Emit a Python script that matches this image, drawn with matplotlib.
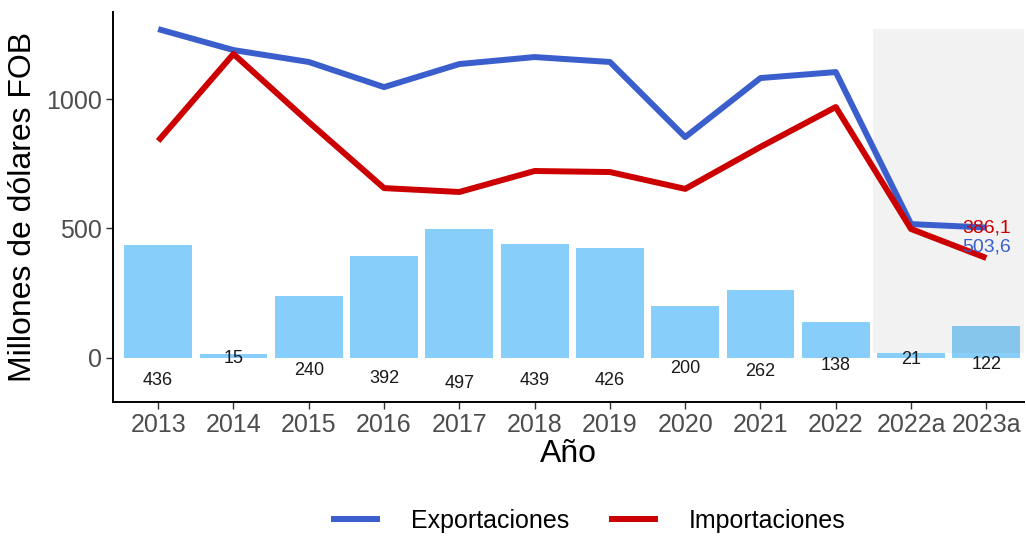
import matplotlib
matplotlib.use("Agg")
import matplotlib.pyplot as plt
from matplotlib.lines import Line2D
from matplotlib.patches import Rectangle

# datos
anios = ['2013', '2014', '2015', '2016', '2017', '2018', '2019', '2020',
         '2021', '2022', '2022a', '2023a']
exportaciones = [1270, 1189, 1143, 1046, 1135, 1162, 1143, 853, 1081, 1104, 517, 503.6]
importaciones = [838, 1174, 911, 656, 641, 722, 718, 653, 815, 969, 498, 386.1]
saldo = [436, 15, 240, 392, 497, 439, 426, 200, 262, 138, 21, 122]

AZUL = '#3A5FCD'
ROJO = '#CC0000'
BARRA = '#87CEFA'

plt.rcParams['font.family'] = ['Liberation Sans', 'DejaVu Sans']

fig = plt.figure(figsize=(10.26, 5.36), dpi=100)
ax = fig.add_axes([113 / 1026, 1 - 402 / 536, (1024 - 113) / 1026, (402 - 12) / 536])

x = list(range(len(anios)))

ax.bar(x, saldo, width=0.9, color=BARRA, zorder=1)
for xi, v in zip(x, saldo):
    ax.text(xi, -0.2 * v, f'{v}', ha='center', va='center', fontsize=13,
            color='#1a1a1a', zorder=4)

# zona sombreada (datos acumulados)
ax.add_patch(Rectangle((9.5, 20), 2.0, max(exportaciones) - 20,
                       facecolor='#808080', alpha=0.1, edgecolor='none', zorder=2))

ax.plot(x, exportaciones, color=AZUL, lw=4.3, zorder=3, solid_capstyle='butt')
ax.plot(x, importaciones, color=ROJO, lw=4.3, zorder=3, solid_capstyle='butt')

ax.text(x[-1], exportaciones[-1], f'{importaciones[-1]:.1f}'.replace('.', ','),
        color=ROJO, ha='center', va='center', fontsize=14, zorder=5)
ax.text(x[-1], importaciones[-1] + 42, f'{exportaciones[-1]:.1f}'.replace('.', ','),
        color=AZUL, ha='center', va='center', fontsize=14, zorder=5)

ax.set_xlim(-0.6, 11.5)
ax.set_ylim(-170, 1336)
ax.set_xticks(x)
ax.set_xticklabels(anios)
ax.set_yticks([0, 500, 1000])
ax.tick_params(axis='both', labelsize=18, labelcolor='#4D4D4D', length=5,
               width=1, color='#333333', pad=3)

for s in ['top', 'right']:
    ax.spines[s].set_visible(False)
for s in ['left', 'bottom']:
    ax.spines[s].set_linewidth(1.4)

ax.set_xlabel('Año', fontsize=23, labelpad=1)
ax.set_ylabel('Millones de dólares FOB', fontsize=23, labelpad=6)

handles = [Line2D([0], [0], color=AZUL, lw=4.3),
           Line2D([0], [0], color=ROJO, lw=4.3)]
fig.legend(handles, ['Exportaciones', 'Importaciones'], loc='center',
           bbox_to_anchor=(590 / 1026, 1 - 521 / 536), ncol=2, frameon=False,
           fontsize=18, handlelength=1.72, columnspacing=1.7, handletextpad=1.36)

fig.savefig('out.png', dpi=100)
